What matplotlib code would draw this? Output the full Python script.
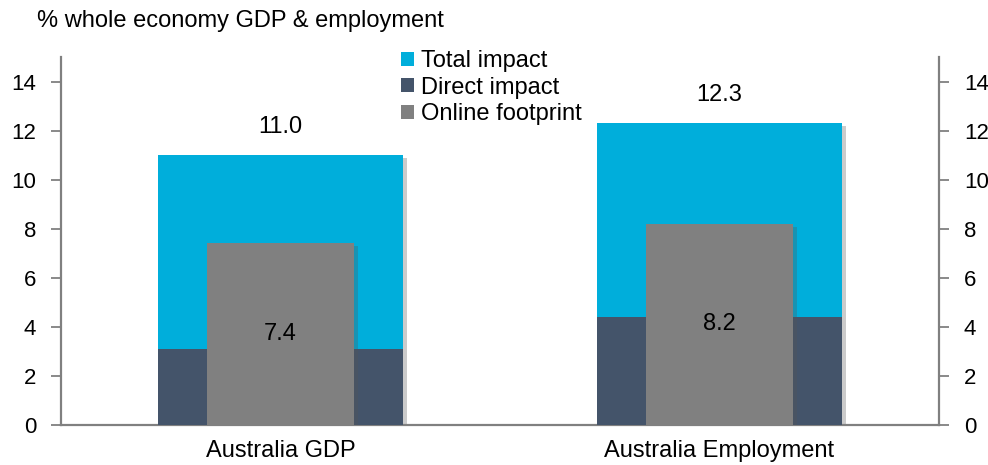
import matplotlib
matplotlib.use("Agg")
import matplotlib.pyplot as plt
import matplotlib.patheffects as pe
from matplotlib.patches import Patch

plt.rcParams['font.family'] = ['Liberation Sans', 'DejaVu Sans']

categories = ["Australia GDP", "Australia Employment"]
total_impact = [11.0, 12.3]
direct_impact = [3.1, 4.4]
online_footprint = [7.4, 8.2]
yticks = [0, 2, 4, 6, 8, 10, 12, 14]
subtitle = "% whole economy GDP & employment"
legend_labels = ["Total impact", "Direct impact", "Online footprint"]

c_total = "#00AEDB"
c_direct = "#44546A"
c_online = "#808080"
axis_c = "#808080"
FS = 17
TFS = 16

W, H = 988, 465
fig = plt.figure(figsize=(W / 100, H / 100), dpi=100)
ax = fig.add_axes([61 / W, 1 - 425 / H, (939 - 61) / W, (425 - 57) / H])

x = list(range(len(categories)))
shadow = [pe.SimplePatchShadow(offset=(3, -2), shadow_rgbFace="#555555", alpha=0.3), pe.Normal()]

bt = ax.bar(x, total_impact, width=0.556, color=c_total, zorder=2)
for b in bt:
    b.set_path_effects(shadow)
ax.bar(x, direct_impact, width=0.556, color=c_direct, zorder=3)
bo = ax.bar(x, online_footprint, width=0.333, color=c_online, zorder=4)
for b in bo:
    b.set_path_effects(shadow)

for xi, v in zip(x, total_impact):
    ax.annotate(f"{v:.1f}", (xi, v), xytext=(0, 20.5), textcoords="offset points",
                ha="center", va="center", fontsize=FS, color="black")
for xi, v in zip(x, online_footprint):
    ax.text(xi, v / 2, f"{v:.1f}", ha="center", va="center", fontsize=FS,
            color="black", zorder=5)

ax.set_xlim(-0.5, 1.5)
ax.set_ylim(0, 15)
ax.set_yticks(yticks)
ax.set_xticks(x)
ax.set_xticklabels(categories, fontsize=FS)
ax.tick_params(axis="x", length=0, pad=11)
ax.tick_params(axis="y", length=7, width=1.3, color=axis_c, labelsize=TFS, pad=11)

for s in ["top", "right"]:
    ax.spines[s].set_visible(False)
for s in ["left", "bottom"]:
    ax.spines[s].set_color(axis_c)
    ax.spines[s].set_linewidth(1.6)

ax2 = ax.twinx()
ax2.set_ylim(0, 15)
ax2.set_yticks(yticks)
ax2.tick_params(axis="y", length=7, width=1.3, color=axis_c, labelsize=TFS, pad=11)
for s in ["top", "left", "bottom"]:
    ax2.spines[s].set_visible(False)
ax2.spines["right"].set_color(axis_c)
ax2.spines["right"].set_linewidth(1.6)

fig.text(37 / W, 1 - 21 / H, subtitle, fontsize=FS, ha="left", va="center")

handles = [Patch(facecolor=c) for c in (c_total, c_direct, c_online)]
fig.legend(handles, legend_labels, loc="upper left",
           bbox_to_anchor=(401 / W, 1 - 50 / H), frameon=False, fontsize=FS,
           handlelength=0.55, handleheight=0.55, handletextpad=0.3,
           labelspacing=0.2, borderpad=0, borderaxespad=0)

fig.savefig("out.png", dpi=100)
